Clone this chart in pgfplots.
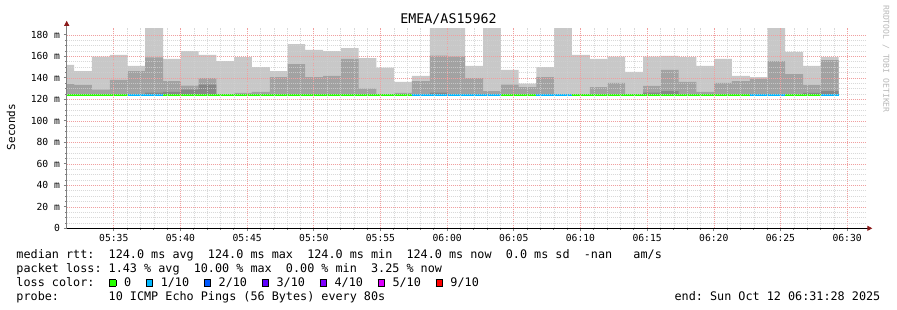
\documentclass[border=0pt]{standalone}
\usepackage{fontspec}
\setmainfont{DejaVu Sans Mono}
\usepackage{pgfplots}
\usepackage{pgfplotstable}
\pgfplotsset{compat=1.18}
\usepgfplotslibrary{fillbetween}
\usetikzlibrary{arrows.meta}

\definecolor{smokeA}{HTML}{C8C8C8}
\definecolor{smokeB}{HTML}{A2A2A2}
\definecolor{smokeC}{HTML}{878787}
\definecolor{loss0}{HTML}{26FF00}
\definecolor{loss1}{HTML}{00B8FF}
\definecolor{loss2}{HTML}{0059FF}
\definecolor{loss3}{HTML}{5E00FF}
\definecolor{loss4}{HTML}{7E00FF}
\definecolor{loss5}{HTML}{DD00FF}
\definecolor{loss9}{HTML}{FF0000}
\definecolor{mgrid}{HTML}{F0A0A0}
\definecolor{gridc}{HTML}{D0D0D0}
\definecolor{arrowc}{HTML}{8B1A1A}
\definecolor{wm}{HTML}{B8B8B8}

% bar start (minutes after 05:00), max ping, second shade, third shade, base
\pgfplotstableread{
x     top   mid   dark  base
30.70 151.9 134.2 123.6 123.6
32.03 146.3 133.3 123.6 123.6
33.36 159.7 129.1 123.6 123.6
34.70 161.2 138.0 123.6 123.6
36.03 151.0 146.3 123.6 123.6
37.36 186.3 159.0 126.1 123.6
38.70 157.5 137.0 127.0 123.6
40.03 164.9 132.7 129.0 123.6
41.36 161.2 139.8 133.6 123.6
42.70 155.6 123.6 123.6 123.6
44.03 159.3 126.0 123.6 123.6
45.36 150.0 127.0 123.6 123.6
46.70 146.3 140.5 123.6 123.6
48.03 171.4 152.8 123.6 123.6
49.36 165.9 140.7 123.6 123.6
50.70 164.9 141.7 123.6 123.6
52.03 167.7 157.5 123.6 123.6
53.36 158.4 129.9 123.6 123.6
54.70 149.4 123.6 123.6 123.6
56.03 136.1 125.9 123.6 123.6
57.36 141.7 137.0 123.6 123.6
58.70 186.3 160.6 126.1 123.6
60.03 186.3 160.0 123.6 123.6
61.36 151.0 139.8 123.6 123.6
62.70 186.3 127.7 123.6 123.6
64.03 147.3 133.6 123.6 123.6
65.36 134.5 131.4 123.6 123.6
66.70 150.0 140.7 123.6 123.6
68.03 186.3 123.6 123.6 123.6
69.36 161.2 123.6 123.6 123.6
70.70 157.5 131.4 123.6 123.6
72.03 159.7 135.2 123.6 123.6
73.36 145.4 123.6 123.6 123.6
74.70 159.7 132.4 126.1 123.6
76.03 160.3 147.3 127.7 123.6
77.36 159.3 136.1 123.6 123.6
78.70 151.0 126.8 123.6 123.6
80.03 157.5 135.2 123.6 123.6
81.36 141.7 137.0 123.6 123.6
82.70 140.7 138.9 123.6 123.6
84.03 186.3 155.6 123.6 123.6
85.36 164.0 143.5 123.6 123.6
86.70 151.0 133.3 125.9 123.6
88.03 159.3 156.5 127.7 123.6
89.36 159.3 156.5 127.7 123.6
}\smoke

\newcommand{\lbox}[1]{\makebox[8.3bp][l]{\hspace{0.5bp}\raisebox{1bp}{\setlength{\fboxsep}{0pt}\setlength{\fboxrule}{0.6bp}\fcolorbox{black}{#1}{\rule{0pt}{5.8bp}\rule{5.8bp}{0pt}}}}}

\begin{document}
\begin{tikzpicture}
\path (0bp,0bp) rectangle (897bp,310bp);
\begin{axis}[
  at={(66.7bp,81.7bp)}, anchor=south west,
  scale only axis, width=799.6bp, height=200.5bp,
  xmin=31.47, xmax=91.44, ymin=0, ymax=186.5,
  axis lines=left,
  axis on top,
  x axis line style={draw=black, line width=0.9bp, shorten >=-6bp, -{Triangle[length=5bp,width=5bp,color=arrowc,fill=arrowc]}},
  y axis line style={draw=gray, line width=0.9bp, shorten >=-7bp, -{Triangle[length=5bp,width=5bp,color=arrowc,fill=arrowc]}},
  xtick={35,40,...,90},
  xticklabels={05:35,05:40,05:45,05:50,05:55,06:00,06:05,06:10,06:15,06:20,06:25,06:30},
  ytick={0,20,...,180},
  yticklabels={0,20 m,40 m,60 m,80 m,100 m,120 m,140 m,160 m,180 m},
  minor x tick num=4, minor y tick num=3,
  grid=both,
  major grid style={draw=mgrid, dash pattern=on 1bp off 1bp, line width=0.55bp},
  minor grid style={draw=gridc, dash pattern=on 1bp off 1bp, line width=0.5bp, opacity=0.8},
  tick align=outside, major tick length=3bp, minor tick length=1.5bp,
  tick style={draw=gray, line width=0.7bp},
  xticklabel style={font=\fontsize{9.7bp}{11bp}\selectfont, inner sep=0pt, yshift=-2.5bp},
  yticklabel style={font=\fontsize{9.7bp}{11bp}\selectfont, inner sep=0pt, xshift=-3.5bp},
]
\addplot[draw=none, const plot mark left, name path=pA, forget plot] table[x=x,y=top] {\smoke};
\addplot[draw=none, const plot mark left, name path=pB, forget plot] table[x=x,y=mid] {\smoke};
\addplot[draw=none, const plot mark left, name path=pC, forget plot] table[x=x,y=dark] {\smoke};
\addplot[draw=none, const plot mark left, name path=pZ, forget plot] table[x=x,y=base] {\smoke};
\addplot[fill=smokeA, draw=none, forget plot] fill between[of=pA and pZ];
\addplot[fill=smokeB, draw=none, forget plot] fill between[of=pB and pZ];
\addplot[fill=smokeC, draw=none, forget plot] fill between[of=pC and pZ];
% median rtt coloured by loss
\addplot[loss0, line width=2bp, line cap=butt] coordinates {(30.70,124) (36.03,124)};
\addplot[loss1, line width=2bp, line cap=butt] coordinates {(36.03,124) (38.70,124)};
\addplot[loss0, line width=2bp, line cap=butt] coordinates {(38.70,124) (57.36,124)};
\addplot[loss1, line width=2bp, line cap=butt] coordinates {(57.36,124) (64.03,124)};
\addplot[loss0, line width=2bp, line cap=butt] coordinates {(64.03,124) (66.70,124)};
\addplot[loss1, line width=2bp, line cap=butt] coordinates {(66.70,124) (69.36,124)};
\addplot[loss0, line width=2bp, line cap=butt] coordinates {(69.36,124) (82.70,124)};
\addplot[loss1, line width=2bp, line cap=butt] coordinates {(82.70,124) (85.36,124)};
\addplot[loss0, line width=2bp, line cap=butt] coordinates {(85.36,124) (88.03,124)};
\addplot[loss1, line width=2bp, line cap=butt] coordinates {(88.03,124) (89.36,124)};
\end{axis}
\node[font=\fontsize{13.3bp}{15bp}\selectfont, anchor=base, inner sep=0pt] at (448.5bp,286bp) {EMEA/AS15962};
\node[font=\fontsize{11bp}{13bp}\selectfont, rotate=90, inner sep=0pt] at (11bp,183bp) {Seconds};
\node[font=\fontsize{8.1bp}{10bp}\selectfont, rotate=-90, text=wm, inner sep=0pt] at (886bp,251bp) {RRDTOOL / TOBI OETIKER};
\begin{scope}[every node/.style={font=\fontsize{11.78bp}{13bp}\selectfont, anchor=base west, inner sep=0pt}]
\node at (16.3bp,51bp) {median~rtt:~~124.0~ms~avg~~124.0~ms~max~~124.0~ms~min~~124.0~ms~now~~0.0~ms~sd~~-nan~~~am/s};
\node at (16.3bp,37.3bp) {packet~loss:~1.43~\%~avg~~10.00~\%~max~~0.00~\%~min~~3.25~\%~now};
\node at (16.3bp,23.3bp) {loss~color:~~\lbox{loss0}~0~~\lbox{loss1}~1/10~~\lbox{loss2}~2/10~~\lbox{loss3}~3/10~~\lbox{loss4}~4/10~~\lbox{loss5}~5/10~~\lbox{loss9}~9/10};
\node at (16.3bp,10bp) {probe:~~~~~~~10~ICMP~Echo~Pings~(56~Bytes)~every~80s};
\node[anchor=base east] at (880.5bp,10bp) {end:~Sun~Oct~12~06:31:28~2025};
\end{scope}
\end{tikzpicture}
\end{document}
